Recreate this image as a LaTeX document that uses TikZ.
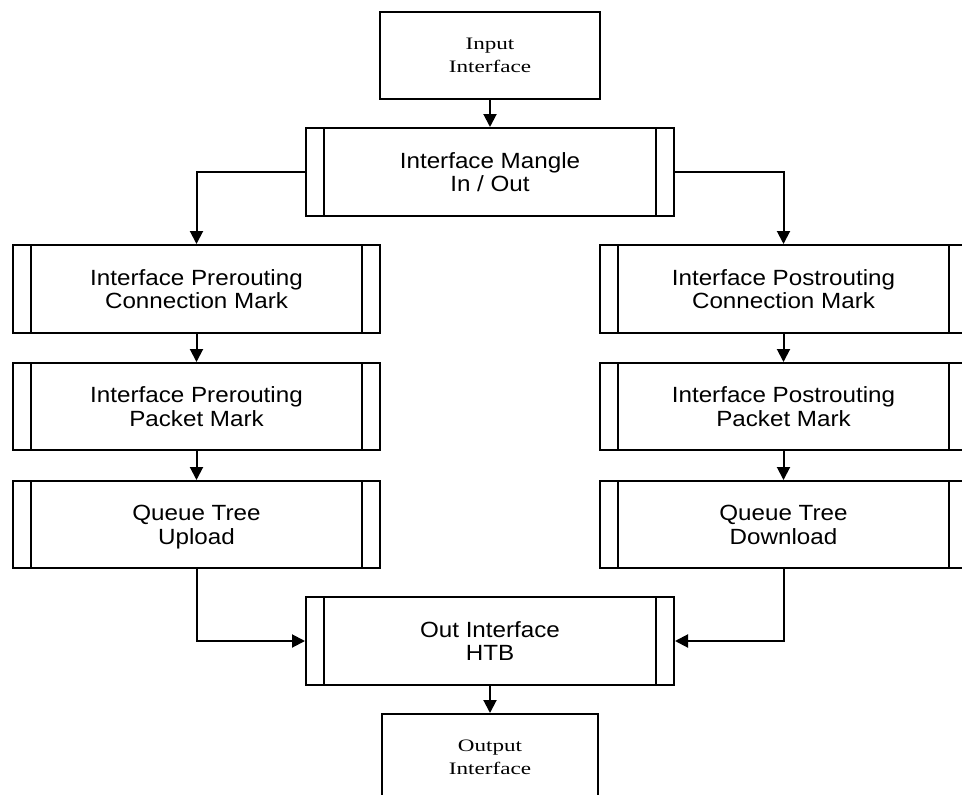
\documentclass[tikz,border=0pt]{standalone}
\usepackage{fontspec}
\newfontfamily\boxsans[FakeStretch=1.1]{Liberation Sans}
\newfontfamily\boxserif[FakeStretch=1.32]{Liberation Serif}
\usetikzlibrary{arrows.meta}
\newcommand\boxtext[3]{\rule{0pt}{#1}\smash{#2}\\\smash{#3}}
\begin{document}
\begin{tikzpicture}[x=1pt,y=-1pt,
  termbox/.style={draw, line width=2pt, inner sep=0pt, align=center,
    font=\boxserif\fontsize{17.5}{23}\selectfont},
  procbox/.style={draw, line width=2pt, inner sep=0pt, align=center,
    minimum height=88pt,
    font=\boxsans\fontsize{22}{23.5}\selectfont,
    path picture={\draw[line width=2pt]
      ([xshift=18pt]path picture bounding box.north west) -- ([xshift=18pt]path picture bounding box.south west)
      ([xshift=-18pt]path picture bounding box.north east) -- ([xshift=-18pt]path picture bounding box.south east);}},
  conn/.style={line width=2pt, -{Triangle[length=13pt,width=13pt]}}
]
\useasboundingbox (0,0) rectangle (962,795);
\clip (0,0) rectangle (962,795);
\node[termbox, minimum width=220pt, minimum height=87pt] (in) at (490,55.5) {\boxtext{11.6pt}{Input}{Interface}};
\node[procbox, minimum width=368pt] (mangle) at (490,172) {\boxtext{15.8pt}{Interface Mangle}{In / Out}};
\node[procbox, minimum width=367pt] (L1) at (196.5,289) {\boxtext{15.8pt}{Interface Prerouting}{Connection Mark}};
\node[procbox, minimum width=367pt, minimum height=87pt] (L2) at (196.5,406.5) {\boxtext{15.8pt}{Interface Prerouting}{Packet Mark}};
\node[procbox, minimum width=367pt, minimum height=87pt] (L3) at (196.5,524.5) {\boxtext{15.8pt}{Queue Tree}{Upload}};
\node[procbox, minimum width=367pt] (R1) at (783.5,289) {\boxtext{15.8pt}{Interface Postrouting}{Connection Mark}};
\node[procbox, minimum width=367pt, minimum height=87pt] (R2) at (783.5,406.5) {\boxtext{15.8pt}{Interface Postrouting}{Packet Mark}};
\node[procbox, minimum width=367pt, minimum height=87pt] (R3) at (783.5,524.5) {\boxtext{15.8pt}{Queue Tree}{Download}};
\node[procbox, minimum width=368pt] (out) at (490,641) {\boxtext{15.8pt}{Out Interface}{HTB}};
\node[termbox, minimum width=216pt, minimum height=87pt] (outp) at (490,757.5) {\boxtext{11.6pt}{Output}{Interface}};
\draw[conn] (in) -- (mangle);
\draw[conn] (mangle.west) -| (L1.north);
\draw[conn] (mangle.east) -| (R1.north);
\draw[conn] (L1) -- (L2);
\draw[conn] (L2) -- (L3);
\draw[conn] (R1) -- (R2);
\draw[conn] (R2) -- (R3);
\draw[conn] (L3.south) |- (out.west);
\draw[conn] (R3.south) |- (out.east);
\draw[conn] (out) -- (outp);
\end{tikzpicture}
\end{document}
